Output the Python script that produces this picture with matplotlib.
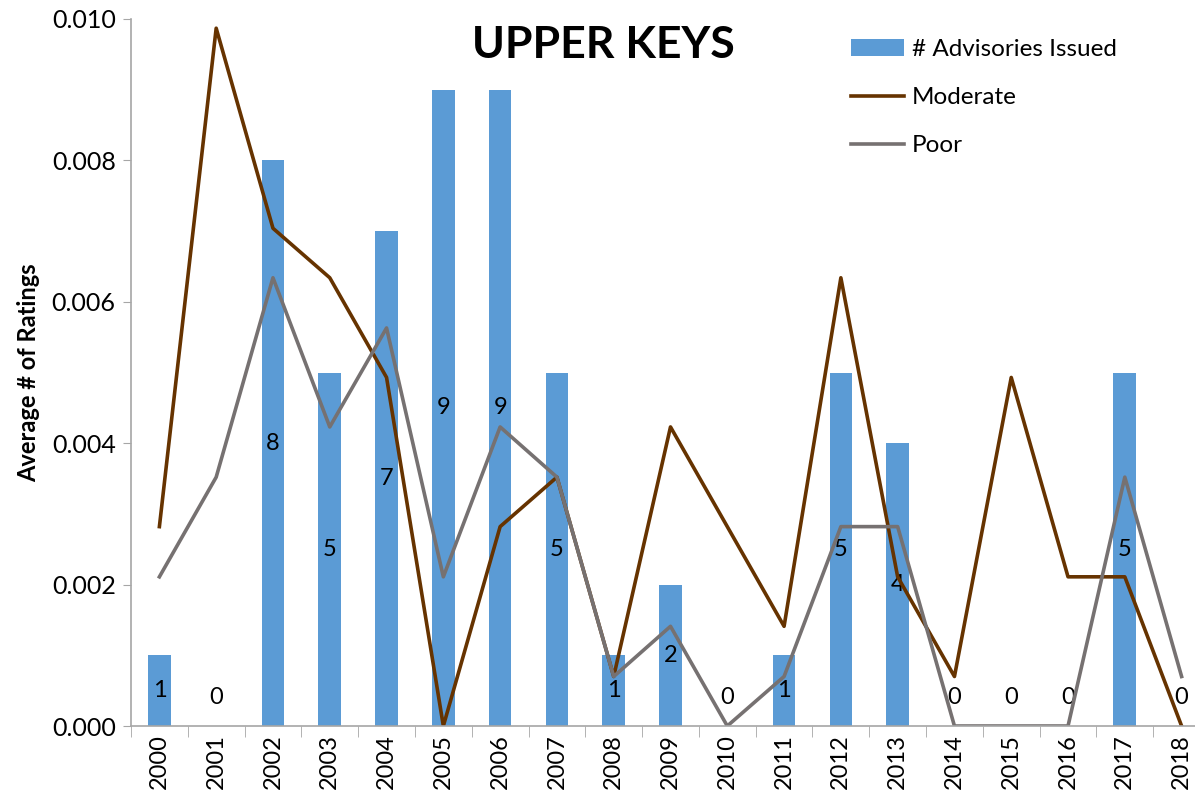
import matplotlib.pyplot as plt
import numpy as np

plt.rcParams['font.family'] = ['Lato', 'DejaVu Sans']

years = [str(y) for y in range(2000, 2019)]
advisories = [1, 0, 8, 5, 7, 9, 9, 5, 1, 2, 0, 1, 5, 4, 0, 0, 0, 5, 0]
moderate = [0.00282, 0.00987, 0.00704, 0.00634, 0.00493, 0.0, 0.00282, 0.00352, 0.0007, 0.00423,
            0.00282, 0.00141, 0.00634, 0.00211, 0.0007, 0.00493, 0.00211, 0.00211, 0.0]
poor = [0.00211, 0.00352, 0.00634, 0.00423, 0.00563, 0.00211, 0.00423, 0.00352, 0.0007, 0.00141,
        0.0, 0.0007, 0.00282, 0.00282, 0.0, 0.0, 0.0, 0.00352, 0.0007]

BAR_COLOR = '#5B9BD5'
MOD_COLOR = '#663300'
POOR_COLOR = '#767171'
AXIS_COLOR = '#A6A6A6'

fig = plt.figure(figsize=(11.95, 7.97), dpi=100)
# plot area runs a little past the right edge, as in the original
ax = fig.add_axes([131 / 1195, 1 - 726 / 797, 1079 / 1195, 707 / 797])
ax2 = ax.twinx()

x = np.arange(len(years))

# bars on hidden secondary axis (0-10)
bars = ax2.bar(x, advisories, width=0.4, color=BAR_COLOR, zorder=1, label='# Advisories Issued')
ax2.set_ylim(0, 10)
ax2.set_yticks([])
for s in ax2.spines.values():
    s.set_visible(False)
for xi, v in zip(x, advisories):
    ax2.text(xi, max(v / 2, 0.4), str(v), ha='center', va='center', fontsize=17, color='black')

# lines on primary axis, drawn above the bars
ax.set_zorder(ax2.get_zorder() + 1)
ax.patch.set_visible(False)
l1, = ax.plot(x, moderate, color=MOD_COLOR, lw=2.6, label='Moderate')
l2, = ax.plot(x, poor, color=POOR_COLOR, lw=2.6, label='Poor')

ax.set_xlim(-0.5, len(years) - 0.5)
ax.set_ylim(0, 0.010)
ax.set_yticks(np.arange(0, 0.0101, 0.002))
ax.set_yticklabels([f'{v:.3f}' for v in np.arange(0, 0.0101, 0.002)], fontsize=18)
ax.set_xticks(x)
ax.set_xticklabels(years, rotation=90, fontsize=17)
ax.set_xticks(np.arange(-0.5, len(years), 1), minor=True)
ax.tick_params(axis='x', which='major', length=0, pad=6)
ax.tick_params(axis='x', which='minor', length=8, color=AXIS_COLOR, direction='out')
ax.tick_params(axis='y', length=6, color=AXIS_COLOR, direction='out', pad=5)

for side in ['top', 'right']:
    ax.spines[side].set_visible(False)
ax.spines['left'].set_color(AXIS_COLOR)
ax.spines['bottom'].set_color(AXIS_COLOR)
ax.spines['left'].set_linewidth(1.2)
ax.spines['bottom'].set_linewidth(1.2)

ax.set_ylabel('Average # of Ratings', fontsize=17, fontweight='bold', labelpad=8)

fig.text(603 / 1195, 1 - 45 / 797, 'UPPER KEYS', ha='center', va='center',
         fontsize=32, fontweight='bold')

handles = [bars, l1, l2]
fig.legend(handles, [h.get_label() for h in handles], loc='upper left',
           bbox_to_anchor=(829 / 1195, 1 - 17 / 797), frameon=False, fontsize=17.5,
           handlelength=2.2, labelspacing=1.12, handletextpad=0.3)

fig.savefig('out.png', dpi=100)
